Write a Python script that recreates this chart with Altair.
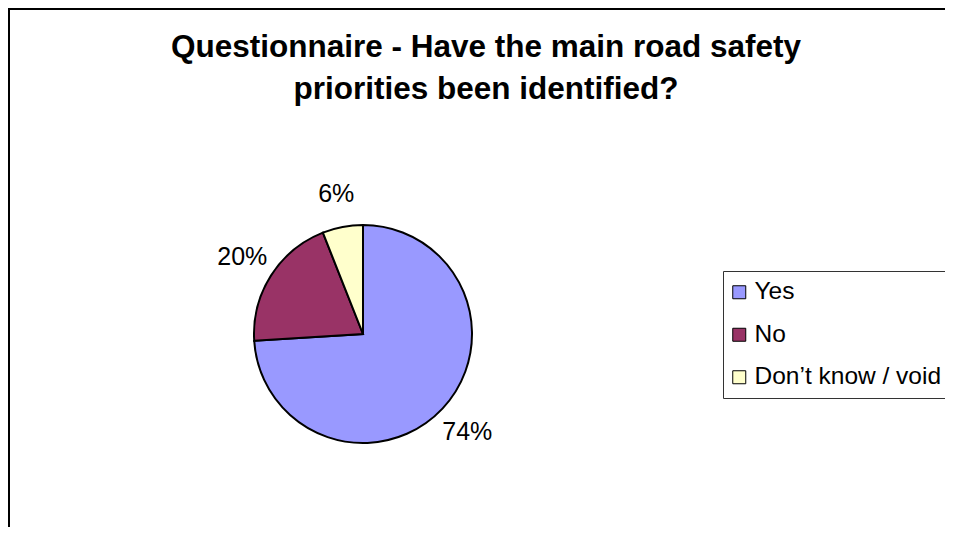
import altair as alt
import pandas as pd

# ---- data ----
categories = ["Yes", "No", "Don’t know / void"]
shares = [74, 20, 6]
labels = ["74%", "20%", "6%"]
colors = ["#9999FF", "#993366", "#FFFFCC"]
title_lines = ["Questionnaire - Have the main road safety", "priorities been identified?"]

FONT = "Liberation Sans"
W, H = 931, 513          # plot area (origin at page 14,14)
CX, CY, R = 349, 320, 109

df = pd.DataFrame({
    "category": categories,
    "share": shares,
    "label": labels,
    "order": list(range(len(categories))),
})

color = alt.Color(
    "category:N",
    scale=alt.Scale(domain=categories, range=colors),
    legend=alt.Legend(
        orient="none", legendX=709, legendY=257, title=None,
        padding=9, strokeColor="#333333", fillColor="white",
        symbolType="square", symbolSize=169, symbolStrokeColor="black",
        symbolStrokeWidth=1, symbolOpacity=1, symbolOffset=-5,
        labelFont=FONT, labelFontSize=24.5, labelColor="black",
        labelLimit=400, labelOffset=3, rowPadding=17.5,
    ),
)

base = alt.Chart(df).encode(
    theta=alt.Theta("share:Q", stack=True),
    order=alt.Order("order:Q"),
    x=alt.value(CX), y=alt.value(CY),
)

pie = base.mark_arc(outerRadius=R, stroke="black", strokeWidth=2).encode(color=color)
pct = base.mark_text(radius=143, font=FONT, fontSize=25, color="black").encode(
    text="label:N"
)

title_df = pd.DataFrame({"line": title_lines})
t1 = alt.Chart(title_df).transform_filter(
    alt.datum.line == title_lines[0]
).mark_text(font=FONT, fontSize=31.5, fontWeight="bold", color="black",
            baseline="alphabetic", align="center").encode(
    text="line:N", x=alt.value(472), y=alt.value(43))
t2 = alt.Chart(title_df).transform_filter(
    alt.datum.line == title_lines[1]
).mark_text(font=FONT, fontSize=31.5, fontWeight="bold", color="black",
            baseline="alphabetic", align="center").encode(
    text="line:N", x=alt.value(472), y=alt.value(85))

top_border = alt.Chart(title_df).mark_rule(color="black", strokeWidth=2).encode(
    x=alt.value(-6), x2=alt.value(W), y=alt.value(-5))
left_border = alt.Chart(title_df).mark_rule(color="black", strokeWidth=2).encode(
    x=alt.value(-5), y=alt.value(-6), y2=alt.value(H))

chart = alt.layer(top_border, left_border, pie, pct, t1, t2).properties(
    width=W, height=H,
    autosize=alt.AutoSizeParams(type="none"),
    padding={"left": 6, "top": 6, "right": 0, "bottom": 0},
    background="white",
).configure_view(stroke=None)

chart.save("out.html", embed_options={"renderer": "svg", "actions": False})
